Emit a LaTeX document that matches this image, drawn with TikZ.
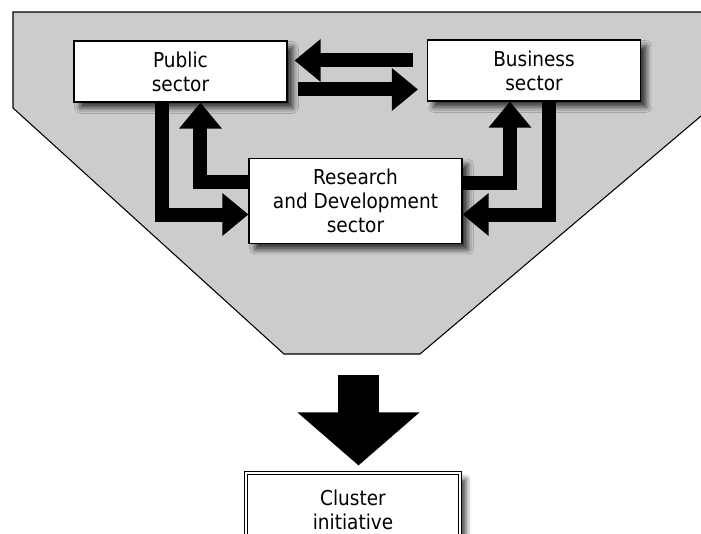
\documentclass[tikz,border=0pt]{standalone}
\usepackage{fontspec}
\setmainfont{DejaVu Sans}[FakeStretch=0.9]
\usetikzlibrary{arrows.meta, shadows.blur}

\begin{document}
\begin{tikzpicture}[x=0.75pt, y=-0.75pt,
	sector/.style={draw=black, line width=0.8pt, fill=white, align=center, inner sep=0pt,
		minimum width=159.75pt, minimum height=45.75pt,
		font=\fontsize{15.4}{18}\selectfont,
		blur shadow={shadow xshift=4.5pt, shadow yshift=-4.5pt, shadow blur radius=4pt, shadow opacity=75}},
	flow/.style={line width=10.5pt, line join=miter, -{Triangle[width=30.75pt, length=19.5pt]}},
	bigflow/.style={line width=30.75pt, -{Triangle[width=89.25pt, length=39.75pt]}}]
	%frame
		\useasboundingbox (0,0) rectangle (701,533);
		\clip (0,0) rectangle (701,533);
	%funnel
		\draw[fill=gray!40, line width=0.8pt] (13,12) -- (13,108) -- (284,354) -- (420,354) -- (740,83) -- (740,12) -- cycle;
		\coordinate (funnel) at (358.5,354);
	%Public sector
		\node[sector] (pub) at (180.5,71.5) {Public\\sector};
	%Business sector
		\node[sector] (biz) at (534,70.5) {Business\\sector};
	%R&D sector
		\node[sector, minimum height=63.75pt] (rd) at (355.5,201) {Research\\and Development\\sector};
	%Cluster
		\node[sector, double, double distance=1.5pt, minimum width=160.5pt, minimum height=55.5pt] (cl) at (353,510) {Cluster\\initiative};
	%Business->Public
		\draw[flow] ([shift={(-14,21)}]biz.north west) -- ([shift={(7,20)}]pub.north east);
	%Public->Business
		\draw[flow] ([shift={(10,49)}]pub.north east) -- ([shift={(-9,50)}]biz.north west);
	%Public->R&D
		\draw[flow] ([shift={(89,0)}]pub.south west) |- ([shift={(0,13.5)}]rd.west);
	%R&D->Public
		\draw[flow] ([shift={(0,-19.5)}]rd.west) -| ([shift={(127,0)}]pub.south west);
	%R&D->Business
		\draw[flow] ([shift={(0,-18.5)}]rd.east) -| ([shift={(83,0)}]biz.south west);
	%Business->R&D
		\draw[flow] ([shift={(122.5,0)}]biz.south west) |- ([shift={(0,13.5)}]rd.east);
	%down to the cluster
		\draw[bigflow, shorten >=5.25pt] ([shift={(0,21)}]funnel) -- (funnel |- cl.north);
\end{tikzpicture}
\end{document}
